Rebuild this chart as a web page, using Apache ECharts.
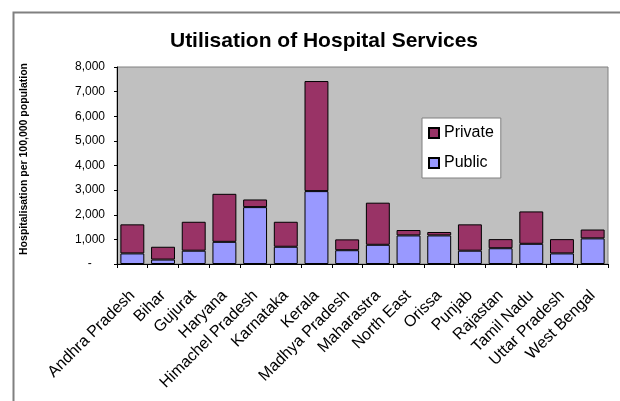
<!DOCTYPE html>
<html>
<head>
<meta charset="utf-8">
<script src="https://cdn.jsdelivr.net/npm/echarts@6/dist/echarts.min.js"></script>
<style>
html,body{margin:0;padding:0;background:#fff;}
#chart{width:620px;height:401px;}
</style>
</head>
<body>
<div id="chart"></div>
<script>
var categories = ['Andhra Pradesh','Bihar','Gujurat','Haryana','Himachel Pradesh','Karnataka','Kerala','Madhya Pradesh','Maharastra','North East','Orissa','Punjab','Rajastan','Tamil Nadu','Uttar Pradesh','West Bengal'];
var publicValues  = [430, 180, 540, 900, 2310, 700, 2960, 560, 780, 1160, 1160, 540, 640, 820, 430, 1040];
var privateValues = [1180, 520, 1175, 1950, 310, 1015, 4470, 440, 1710, 220, 140, 1070, 370, 1315, 580, 360];
var yTickLabels = {0: '-    ', 1000: '1,000', 2000: '2,000', 3000: '3,000', 4000: '4,000', 5000: '5,000', 6000: '6,000', 7000: '7,000', 8000: '8,000'};

var chart = echarts.init(document.getElementById('chart'));
chart.setOption({
  animation: false,
  backgroundColor: '#ffffff',
  title: {
    text: 'Utilisation of Hospital Services',
    left: 319, top: 26, textAlign: 'center',
    textStyle: {fontFamily: 'Liberation Sans, Arial', fontSize: 21, fontWeight: 'bold', color: '#000'}
  },
  graphic: [{
    type: 'rect', left: 11, top: 10, silent: true,
    shape: {width: 640, height: 420},
    style: {fill: 'none', stroke: '#808080', lineWidth: 2}
  }, {
    type: 'text', left: 19, top: 63, rotation: Math.PI / 2, silent: true,
    style: {text: 'Hospitalisation per 100,000 population', font: 'bold 10.5px Liberation Sans, Arial', fill: '#000'}
  }],
  legend: {
    orient: 'vertical', left: 422, top: 118,
    data: ['Private', 'Public'],
    backgroundColor: '#ffffff', borderColor: '#808080', borderWidth: 1,
    padding: [7, 7, 7, 6], itemGap: 14,
    itemWidth: 10, itemHeight: 10, icon: 'rect',
    textStyle: {fontFamily: 'Liberation Sans, Arial', fontSize: 16, color: '#000'}
  },
  grid: {left: 117, right: 12, top: 67, bottom: 137, show: true, backgroundColor: '#C0C0C0', borderColor: '#808080', borderWidth: 1},
  xAxis: {
    type: 'category', data: categories,
    axisLine: {show: true, lineStyle: {color: '#000', width: 1}},
    axisTick: {show: true, length: 4, lineStyle: {color: '#000'}},
    axisLabel: {rotate: 45, margin: 29, interval: 0, fontFamily: 'Liberation Sans, Arial', fontSize: 16, color: '#000'}
  },
  yAxis: {
    type: 'value', min: 0, max: 8000, interval: 1000,
    splitLine: {show: false},
    axisLine: {show: true, lineStyle: {color: '#000', width: 1}},
    axisTick: {show: true, length: 3, lineStyle: {color: '#000'}},
    axisLabel: {margin: 12, fontFamily: 'Liberation Sans, Arial', fontSize: 12, color: '#000',
      formatter: function (v) { return yTickLabels[v] !== undefined ? yTickLabels[v] : v; }}
  },
  series: [{
    name: 'Public', type: 'bar', stack: 'total', data: publicValues,
    barCategoryGap: '22%',
    itemStyle: {color: '#9999FF', borderColor: '#000', borderWidth: 1}
  }, {
    name: 'Private', type: 'bar', stack: 'total', data: privateValues,
    itemStyle: {color: '#993366', borderColor: '#000', borderWidth: 1}
  }]
});
</script>
</body>
</html>
